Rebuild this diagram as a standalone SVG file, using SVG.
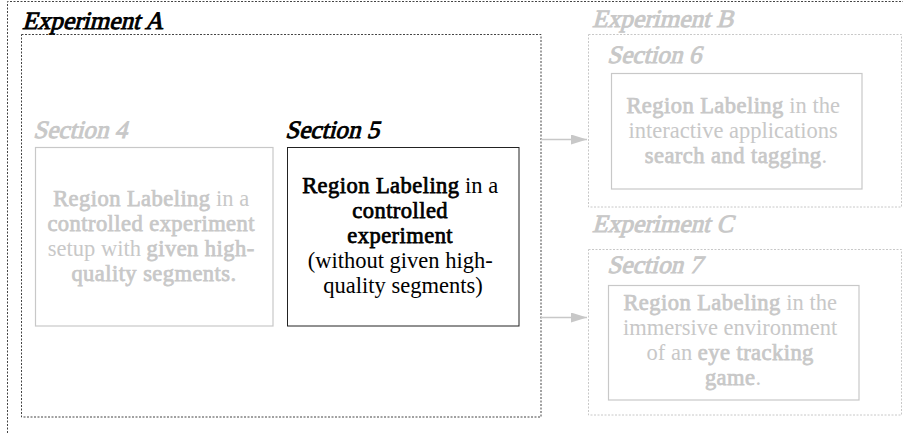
<svg xmlns="http://www.w3.org/2000/svg" width="903" height="434" viewBox="0 0 903 434">
  <style>
    text { font-family: "Liberation Serif", "Times New Roman", serif; font-weight: normal; }
    .title { font-size: 25px; stroke-width: 0.9px; }
    .body { font-size: 22.5px; text-anchor: middle; }
    .b { stroke-width: 0.75px; letter-spacing: 0.45px; }
    .dark { fill: #000; }
    .faint { fill: #c8c8c8; }
    .title.dark, .dark .b { stroke: #000; }
    .title.faint, .faint .b { stroke: #c8c8c8; }
    .frame-dark { fill: none; stroke: #444; stroke-width: 1; stroke-dasharray: 2 1.5; }
    .frame-faint { fill: none; stroke: #c8c8c8; stroke-width: 1; stroke-dasharray: 2 1.5; }
    .box-dark { fill: none; stroke: #222; stroke-width: 1; }
    .box-faint { fill: none; stroke: #c8c8c8; stroke-width: 1.2; }
    .link { stroke: #c8c8c8; stroke-width: 1.5; fill: none; }
  </style>
  <defs>
    <marker id="head" markerWidth="16" markerHeight="10" refX="16" refY="5" orient="auto" markerUnits="userSpaceOnUse">
      <path d="M0,0 L16,5 L0,10 Z" fill="#c8c8c8"/>
    </marker>
  </defs>

  <rect width="903" height="434" fill="#fff"/>

  <!-- outer frame -->
  <path class="frame-dark" d="M7.5,440 V1.5 H910"/>

  <!-- Experiment A -->
  <g id="experiment-a">
    <rect class="frame-dark" x="21.5" y="34.5" width="519.5" height="382.5"/>
    <g transform="translate(22,29) skewX(-15)">
      <text class="title dark" textLength="141" lengthAdjust="spacingAndGlyphs">Experiment A</text>
    </g>
  </g>

  <!-- Section 4 -->
  <g id="section-4">
    <g transform="translate(33,138) skewX(-15)">
      <text class="title faint" textLength="94" lengthAdjust="spacingAndGlyphs">Section 4</text>
    </g>
    <rect class="box-faint" x="35.5" y="147.5" width="237.5" height="178.5"/>
    <text class="body faint" x="154">
      <tspan x="154" y="206"><tspan class="b">Region Labeling</tspan> in a</tspan>
      <tspan x="154" y="231" class="b">controlled experiment</tspan>
      <tspan x="154" y="256">setup with <tspan class="b">given high-</tspan></tspan>
      <tspan x="154" y="281" class="b">quality segments.</tspan>
    </text>
  </g>

  <!-- Section 5 -->
  <g id="section-5">
    <g transform="translate(285,138) skewX(-15)">
      <text class="title dark" textLength="94" lengthAdjust="spacingAndGlyphs">Section 5</text>
    </g>
    <rect class="box-dark" x="287.5" y="147.5" width="231.5" height="178.5"/>
    <text class="body dark" x="403">
      <tspan x="403" y="193"><tspan class="b">Region Labeling</tspan> in a</tspan>
      <tspan x="403" y="218" class="b">controlled</tspan>
      <tspan x="403" y="243" class="b">experiment</tspan>
      <tspan x="403" y="268">(without given high-</tspan>
      <tspan x="403" y="293">quality segments)</tspan>
    </text>
  </g>

  <!-- Experiment B / Section 6 -->
  <g id="experiment-b">
    <g transform="translate(592,27) skewX(-15)">
      <text class="title faint" textLength="141" lengthAdjust="spacingAndGlyphs">Experiment B</text>
    </g>
    <rect class="frame-faint" x="588.5" y="34.5" width="313" height="172.5"/>
  </g>
  <g id="section-6">
    <g transform="translate(607,63) skewX(-15)">
      <text class="title faint" textLength="94" lengthAdjust="spacingAndGlyphs">Section 6</text>
    </g>
    <rect class="box-faint" x="611.5" y="73.5" width="250.5" height="115.5"/>
    <text class="body faint" x="736">
      <tspan x="736" y="113"><tspan class="b">Region Labeling</tspan> in the</tspan>
      <tspan x="736" y="138">interactive applications</tspan>
      <tspan x="736" y="163"><tspan class="b">search and tagging</tspan>.</tspan>
    </text>
  </g>

  <!-- Experiment C / Section 7 -->
  <g id="experiment-c">
    <g transform="translate(592,232) skewX(-15)">
      <text class="title faint" textLength="141" lengthAdjust="spacingAndGlyphs">Experiment C</text>
    </g>
    <rect class="frame-faint" x="588.5" y="249.5" width="313" height="165.5"/>
  </g>
  <g id="section-7">
    <g transform="translate(607,273) skewX(-15)">
      <text class="title faint" textLength="95" lengthAdjust="spacingAndGlyphs">Section 7</text>
    </g>
    <rect class="box-faint" x="608.5" y="285.5" width="250.5" height="114.5"/>
    <text class="body faint" x="733">
      <tspan x="733" y="310"><tspan class="b">Region Labeling</tspan> in the</tspan>
      <tspan x="733" y="335">immersive environment</tspan>
      <tspan x="733" y="360">of an <tspan class="b">eye tracking</tspan></tspan>
      <tspan x="733" y="385"><tspan class="b">game</tspan>.</tspan>
    </text>
  </g>

  <!-- connectors -->
  <g id="connectors">
    <line class="link" x1="541" y1="139.5" x2="587" y2="139.5" marker-end="url(#head)"/>
    <line class="link" x1="541" y1="317.5" x2="587" y2="317.5" marker-end="url(#head)"/>
  </g>
</svg>
